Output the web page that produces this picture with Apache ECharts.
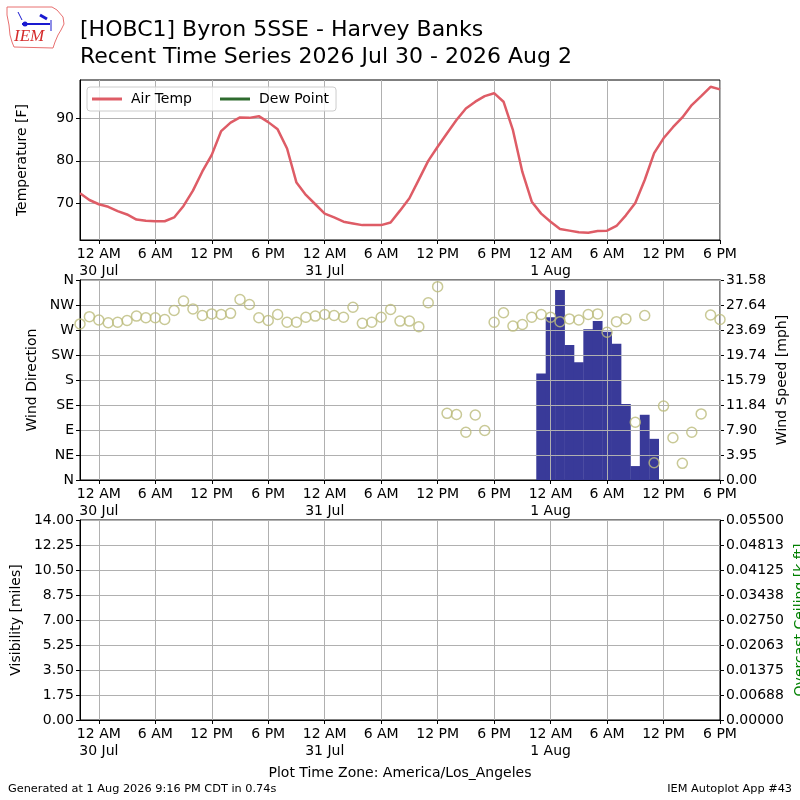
<!DOCTYPE html>
<html>
<head>
<meta charset="utf-8">
<script src="https://cdn.jsdelivr.net/npm/echarts@6/dist/echarts.min.js"></script>
<style>
  html, body { margin: 0; padding: 0; background: #fff; }
  #chart { width: 800px; height: 800px; }
</style>
</head>
<body>
<div id="chart"></div>
<script>
// hours since 30 Jul 00:00 (America/Los_Angeles), hourly obs
const obsHours = Array.from({ length: 69 }, (_, i) => i - 2)

const tempF = [
  72.4, 70.8, 69.8, 69.2, 68.2, 67.4, 66.2, 65.9, 65.8, 65.8,
  66.7, 69.4, 73.0, 77.5, 81.4, 87.0, 89.0, 90.2, 90.1, 90.5,
  89.1, 87.4, 82.9, 74.9, 72.0, 69.8, 67.6, 66.7, 65.7, 65.3,
  64.9, 64.9, 64.9, 65.5, 68.3, 71.2, 75.6, 80.0, 83.3, 86.5,
  89.6, 92.3, 93.9, 95.2, 95.9, 93.9, 87.2, 77.4, 70.4, 67.6,
  65.7, 64.0, 63.6, 63.2, 63.1, 63.5, 63.6, 64.7, 67.2, 70.1,
  75.5, 81.8, 85.3, 87.9, 90.2, 93.1, 95.2, 97.4, 96.8
]

const windDir = [
  281, 294, 288, 283, 284, 287, 295, 292, 292, 289,
  305, 322, 308, 296, 299, 298, 300, 325, 316, 292,
  287, 298, 284, 284, 293, 295, 298, 296, 293, 311,
  282, 284, 293, 307, 286, 286, 276, 319, 348, 120,
  118, 86, 117, 89, 284, 301, 277, 280, 293, 298,
  293, 285, 290, 288, 298, 299, 266, 285, 290, 104,
  296, 31, 133, 76, 30, 86, 119, 297, 289
]

// wind speed only reported 31 Jul 23:00 - 1 Aug 11:00
const speedHours = [47, 48, 49, 50, 51, 52, 53, 54, 55, 56, 57, 58, 59]
const windSpeed = [16.8, 25.7, 30.0, 21.3, 18.6, 23.8, 25.1, 23.4, 21.5, 12.0, 2.2, 10.3, 6.5]

const xTickHours = [0, 6, 12, 18, 24, 30, 36, 42, 48, 54, 60, 66]
const xTickLabels = ['12 AM\n30 Jul', '6 AM', '12 PM', '6 PM', '12 AM\n31 Jul', '6 AM',
  '12 PM', '6 PM', '12 AM\n1 Aug', '6 AM', '12 PM', '6 PM']
const tempTicks = [70, 80, 90]
const dirLabels = ['N', 'NE', 'E', 'SE', 'S', 'SW', 'W', 'NW', 'N']
const speedLabels = ['0.00', '3.95', '7.90', '11.84', '15.79', '19.74', '23.69', '27.64', '31.58']
const ceilLabels = ['0.00000', '0.00688', '0.01375', '0.02063', '0.02750', '0.03438', '0.04125', '0.04813', '0.05500']

const FONT = 'DejaVu Sans'
const FS = 14
const GRID_LINE = '#b0b0b0'

const isTick = index => xTickHours.indexOf(obsHours[index]) >= 0

function xAxisFor(gridIndex, z) {
  return {
    type: 'category',
    gridIndex: gridIndex,
    data: obsHours.map(String),
    boundaryGap: false,
    z: z || 0,
    axisLine: { show: true, onZero: false, lineStyle: { color: '#000', width: 1 } },
    axisTick: { show: true, interval: isTick, length: 4, lineStyle: { color: '#000' } },
    axisLabel: {
      interval: isTick,
      color: '#000',
      fontFamily: FONT,
      fontSize: FS,
      lineHeight: 17,
      margin: 6,
      formatter: v => xTickLabels[xTickHours.indexOf(Number(v))] || ''
    },
    splitLine: { show: true, interval: isTick, lineStyle: { color: GRID_LINE, width: 1 } }
  }
}

function yAxisBase(gridIndex, opts) {
  return Object.assign({
    type: 'value',
    gridIndex: gridIndex,
    nameLocation: 'middle',
    nameRotate: 90,
    nameMoveOverlap: false,
    nameTextStyle: { fontFamily: FONT, fontSize: FS, color: '#000' },
    axisLine: { show: true, onZero: false, lineStyle: { color: '#000', width: 1 } },
    axisTick: { show: true, length: 4, lineStyle: { color: '#000' } },
    axisLabel: { color: '#000', fontFamily: FONT, fontSize: FS, margin: 6 },
    splitLine: { show: true, lineStyle: { color: GRID_LINE, width: 1 } }
  }, opts)
}

function gridAt(top, height) {
  return {
    left: 80, right: 80, top: top, height: height,
    outerBoundsMode: 'none',
    containLabel: false,
    show: true, borderColor: '#000', borderWidth: 1, backgroundColor: 'transparent'
  }
}

const chart = echarts.init(document.getElementById('chart'), null, { renderer: 'canvas' })

const option = {
  backgroundColor: '#fff',
  animation: false,
  textStyle: { fontFamily: FONT },
  title: {
    text: '[HOBC1] Byron 5SSE - Harvey Banks\nRecent Time Series 2026 Jul 30 - 2026 Aug 2',
    left: 80,
    top: 17,
    padding: 0,
    textStyle: { fontFamily: FONT, fontSize: 22, fontWeight: 'normal', color: '#000', lineHeight: 27 }
  },
  legend: {
    left: 87,
    top: 87,
    orient: 'horizontal',
    padding: [5, 7, 5, 5],
    itemGap: 28,
    itemWidth: 30,
    itemHeight: 3,
    icon: 'rect',
    backgroundColor: 'rgba(255,255,255,0.8)',
    borderColor: '#cccccc',
    borderWidth: 1,
    borderRadius: 3,
    textStyle: { fontFamily: FONT, fontSize: FS, color: '#000', padding: [0, 0, 0, 4] },
    data: ['Air Temp', 'Dew Point']
  },
  grid: [gridAt(80, 160), gridAt(280, 200), gridAt(520, 200)],
  xAxis: [xAxisFor(0), xAxisFor(1, 3), xAxisFor(2)],
  yAxis: [
    yAxisBase(0, {
      min: 61.4, max: 99,
      name: 'Temperature [F]', nameGap: 51,
      axisTick: { show: true, customValues: tempTicks, length: 4, lineStyle: { color: '#000' } },
      axisLabel: { customValues: tempTicks, color: '#000', fontFamily: FONT, fontSize: FS, margin: 6 }
    }),
    yAxisBase(1, {
      min: 0, max: 360, interval: 45, z: 3,
      name: 'Wind Direction', nameGap: 41,
      axisLabel: {
        color: '#000', fontFamily: FONT, fontSize: FS, margin: 6,
        formatter: v => dirLabels[Math.round(v / 45)]
      }
    }),
    yAxisBase(1, {
      position: 'right',
      min: 0, max: 31.58, interval: 3.9475,
      name: 'Wind Speed [mph]', nameGap: 55,
      splitLine: { show: false },
      axisLabel: {
        color: '#000', fontFamily: FONT, fontSize: FS, margin: 6,
        formatter: v => speedLabels[Math.round(v / 3.9475)]
      }
    }),
    yAxisBase(2, {
      min: 0, max: 14, interval: 1.75,
      name: 'Visibility [miles]', nameGap: 57,
      axisLabel: {
        color: '#000', fontFamily: FONT, fontSize: FS, margin: 6,
        formatter: v => v.toFixed(2)
      }
    }),
    yAxisBase(2, {
      position: 'right',
      min: 0, max: 0.055, interval: 0.006875,
      name: 'Overcast Ceiling [k ft]', nameGap: 73,
      nameTextStyle: { fontFamily: FONT, fontSize: FS, color: '#008000' },
      splitLine: { show: false },
      axisLabel: {
        color: '#000', fontFamily: FONT, fontSize: FS, margin: 6,
        formatter: v => ceilLabels[Math.round(v / 0.006875)]
      }
    })
  ],
  series: [
    {
      name: 'Air Temp',
      type: 'line',
      xAxisIndex: 0,
      yAxisIndex: 0,
      showSymbol: false,
      color: '#de5c66',
      lineStyle: { width: 2.5, color: '#de5c66' },
      data: tempF
    },
    {
      name: 'Dew Point',
      type: 'line',
      xAxisIndex: 0,
      yAxisIndex: 0,
      showSymbol: false,
      color: '#2e6b2e',
      lineStyle: { width: 2.5, color: '#2e6b2e' },
      data: []
    },
    {
      name: 'Wind Speed',
      type: 'bar',
      xAxisIndex: 1,
      yAxisIndex: 2,
      z: 1,
      barWidth: 9.8,
      itemStyle: { color: '#393a99' },
      data: obsHours.map(h => {
        const k = speedHours.indexOf(h)
        return k >= 0 ? windSpeed[k] : null
      })
    },
    {
      name: 'Wind Direction',
      type: 'scatter',
      xAxisIndex: 1,
      yAxisIndex: 1,
      z: 5,
      symbol: 'circle',
      symbolSize: 10,
      itemStyle: { color: 'rgba(0,0,0,0)', borderColor: '#bcbc7c', borderWidth: 1.5 },
      data: windDir
    }
  ],
  graphic: [
    {
      type: 'polygon',
      shape: { points: [[7, 7], [52, 7], [57, 10], [63, 17], [64, 24], [61, 30], [58, 35], [55, 42], [53, 48], [14, 47], [12, 42], [10, 35], [9, 25], [7, 15]] },
      style: { fill: 'none', stroke: '#e87070', lineWidth: 1 }
    },
    { type: 'line', shape: { x1: 22, y1: 24, x2: 50, y2: 24 }, style: { stroke: '#1a1ad0', lineWidth: 2 } },
    { type: 'circle', shape: { cx: 25, cy: 24, r: 2.5 }, style: { fill: '#1a1ad0' } },
    { type: 'line', shape: { x1: 40, y1: 15, x2: 47, y2: 19 }, style: { stroke: '#1a1ad0', lineWidth: 3 } },
    { type: 'line', shape: { x1: 51, y1: 20, x2: 51, y2: 31 }, style: { stroke: '#1a1ad0', lineWidth: 1 } },
    { type: 'line', shape: { x1: 18, y1: 12, x2: 22, y2: 20 }, style: { stroke: '#1a1ad0', lineWidth: 1 } },
    {
      type: 'text', left: 14, top: 28,
      style: { text: 'IEM', fill: '#d42a2a', font: 'italic 17px "Liberation Serif", "DejaVu Serif", serif' }
    },
    {
      type: 'text', left: 'center', top: 766,
      style: { text: 'Plot Time Zone: America/Los_Angeles', fill: '#000', font: '14px "DejaVu Sans"' }
    },
    {
      type: 'text', left: 8, top: 784,
      style: { text: 'Generated at 1 Aug 2026 9:16 PM CDT in 0.74s', fill: '#000', font: '11.3px "DejaVu Sans"' }
    },
    {
      type: 'text', right: 8, top: 784,
      style: { text: 'IEM Autoplot App #43', fill: '#000', font: '11.3px "DejaVu Sans"' }
    }
  ]
}

chart.setOption(option)
</script>
</body>
</html>
